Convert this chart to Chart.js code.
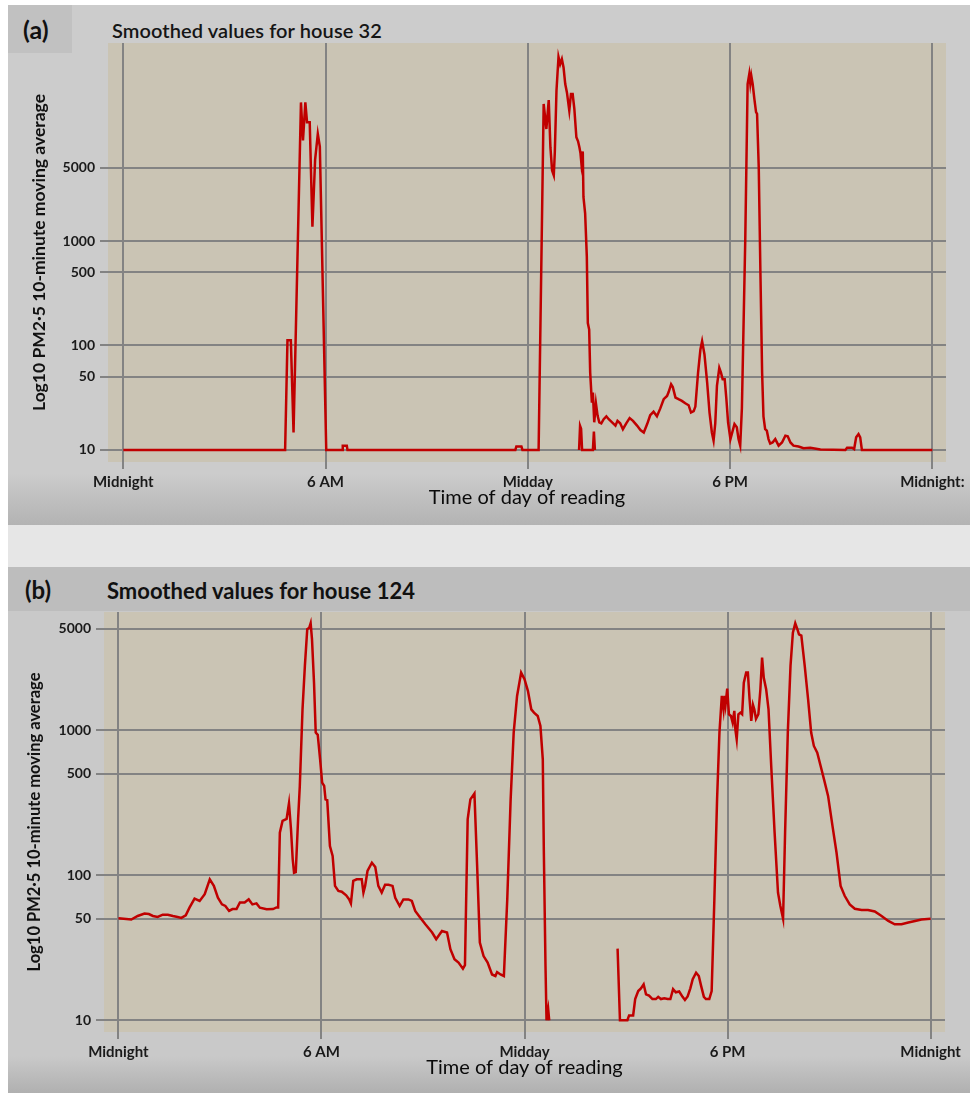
<!DOCTYPE html>
<html>
<head>
<meta charset="utf-8">
<script src="https://cdn.jsdelivr.net/npm/chart.js@4.4.1/dist/chart.umd.min.js"></script>
<style>
  html, body { margin:0; padding:0; background:#ffffff; }
  body { width:978px; height:1093px; position:relative; overflow:hidden; font-family: Lato, "DejaVu Sans", sans-serif; }
  .abs { position:absolute; line-height:1.2; }
  #pa { left:8px; top:5px; width:962px; height:520px; background:linear-gradient(to bottom,#cccccc 0%,#cccccc 90%,#b3b3b3 100%); }
  #labA { left:8px; top:5px; width:64px; height:48px; background:#c1c1c1; }
  #labA span { position:absolute; left:15px; top:9px; font-weight:bold; font-size:25px; line-height:1.2; color:#111; }
  #titleA { left:112px; top:18px; font-size:20px; font-weight:600; color:#151515; white-space:nowrap; letter-spacing:0.1px; }
  #gap { left:8px; top:525px; width:962px; height:42px; background:#e6e6e6; }
  #pb { left:8px; top:567px; width:962px; height:526px; background:linear-gradient(to bottom,#c9c9c9 0%,#c9c9c9 93%,#b0b0b0 100%); }
  #hb { left:8px; top:567px; width:962px; height:44px; background:#bdbdbd; }
  #labB { left:25px; top:576px; font-weight:bold; font-size:24px; color:#111; }
  #titleB { left:107px; top:578px; font-size:22px; font-weight:bold; color:#111; white-space:nowrap; }
  canvas { position:absolute; left:0; }
</style>
</head>
<body>
<div id="pa" class="abs"></div>
<div id="labA" class="abs"><span>(a)</span></div>
<div id="titleA" class="abs">Smoothed values for house 32</div>
<div id="gap" class="abs"></div>
<div id="pb" class="abs"></div>
<div id="hb" class="abs"></div>
<div id="labB" class="abs">(b)</div>
<div id="titleB" class="abs">Smoothed values for house 124</div>
<canvas id="cA" width="978" height="525" style="top:0px"></canvas>
<canvas id="cB" width="978" height="526" style="top:567px"></canvas>
<script>
// ---------- tick labels ----------
const xTickHours = [0, 6, 12, 18, 24];
const xLabelsA = ["Midnight", "6 AM", "Midday", "6 PM", "Midnight:"];
const xLabelsB = ["Midnight", "6 AM", "Midday", "6 PM", "Midnight"];
const yTickValues = [10, 50, 100, 500, 1000, 5000];

// ---------- house 32 (hours of day, PM2.5 10-min moving average) ----------
const hours32 = [0, 4.80, 4.87, 4.97, 5.05, 5.27, 5.33, 5.40, 5.45, 5.53,
  5.61, 5.69, 5.77, 5.83, 6.02, 6.49, 6.51, 6.63, 6.65, 11.63,
  11.66, 11.81, 11.84, 12.32, 12.47, 12.55, 12.62, 12.67, 12.72, 12.77,
  12.80, 12.85, 12.91, 12.96, 13.01, 13.06, 13.11, 13.16, 13.23, 13.28,
  13.33, 13.38, 13.44, 13.49, 13.53, 13.56, 13.59, 13.63, 13.65, 13.70,
  13.75, 13.78, 13.82, 13.85, 13.90, 13.93, 13.97, 14.02, 14.07, 14.12,
  14.18, 14.25, 14.33, 14.40, 14.50, 14.60, 14.66, 14.74, 14.82, 14.92,
  15.02, 15.12, 15.24, 15.34, 15.44, 15.54, 15.63, 15.73, 15.83, 15.93,
  16.03, 16.13, 16.18, 16.25, 16.30, 16.38, 16.47, 16.57, 16.67, 16.77,
  16.84, 16.92, 16.97, 17.05, 17.12, 17.17, 17.24, 17.32, 17.39, 17.46,
  17.51, 17.56, 17.61, 17.68, 17.73, 17.78, 17.84, 17.89, 17.94, 18.01,
  18.07, 18.13, 18.20, 18.25, 18.30, 18.35, 18.45, 18.52, 18.57, 18.60,
  18.63, 18.67, 18.72, 18.77, 18.80, 18.85, 18.90, 18.95, 18.99, 19.04,
  19.09, 19.14, 19.19, 19.26, 19.34, 19.44, 19.54, 19.64, 19.71, 19.79,
  19.88, 20.03, 20.18, 20.38, 20.68, 21.42, 21.47, 21.62, 21.68, 21.74,
  21.81, 21.86, 21.91, 24];
const pm32 = [10, 10, 112, 112, 14.7, 21200, 9160, 21200, 13700, 13700,
  1370, 6000, 10600, 8000, 10, 10, 11, 11, 10, 10,
  10.8, 10.8, 10, 10, 20500, 11800, 22300, 7900, 4740, 4250,
  7000, 27400, 57800, 49200, 55000, 45700, 31800, 26400, 17700, 25500,
  25500, 18400, 9840, 9000, 7900, 7000, 5500, 7200, 2640, 1840,
  708, 164, 142, 55, 28.4, 35.5, 18.4, 28, 21.2, 18.4,
  18, 19.7, 21, 19.7, 18.4, 17.1, 19, 18, 15.8, 18,
  20.2, 19, 17.1, 15.5, 14.7, 17.7, 21.5, 23.2, 21, 25,
  30.6, 32.9, 36, 42.6, 40, 31.7, 30.6, 29.5, 28, 26.8,
  22.8, 23.5, 26, 55, 91.6, 110, 82, 44, 22.8, 14.7,
  12.3, 18, 41, 61, 55, 47.5, 47.5, 30.6, 18.4, 12.7,
  15, 17.7, 16.5, 12.7, 11, 25, 1020, 31800, 39800, 32000,
  38000, 31800, 22900, 17100, 16500, 5100, 492, 55, 21, 15.8,
  15.3, 12.7, 11.5, 11.8, 12.7, 11, 11.8, 13.7, 13.5, 11.8,
  11, 10.8, 10.4, 10.5, 10.1, 10, 10.5, 10.5, 10.2, 13.2,
  14.2, 13.2, 10, 10];
// short separate run of readings near 13:30
const blipHours32 = [13.52, 13.55, 13.58, 13.61, 13.93, 13.96, 13.99];
const blipPm32 = [10, 17, 16, 10, 10, 15, 10];

// ---------- house 124 ----------
const hours124 = [0, 0.38, 0.57, 0.77, 0.90, 1.02, 1.16, 1.31, 1.46, 1.61,
  1.75, 1.86, 1.99, 2.10, 2.25, 2.40, 2.55, 2.70, 2.82, 2.94,
  3.06, 3.16, 3.27, 3.37, 3.49, 3.59, 3.73, 3.85, 3.96, 4.08,
  4.18, 4.38, 4.57, 4.67, 4.72, 4.77, 4.85, 4.97, 5.04, 5.10,
  5.15, 5.19, 5.24, 5.31, 5.36, 5.44, 5.51, 5.58, 5.64, 5.68,
  5.72, 5.78, 5.83, 5.89, 5.96, 6.02, 6.08, 6.12, 6.17, 6.25,
  6.33, 6.40, 6.50, 6.60, 6.73, 6.82, 6.87, 6.94, 7.04, 7.19,
  7.24, 7.29, 7.36, 7.49, 7.59, 7.68, 7.78, 7.88, 7.98, 8.10,
  8.18, 8.31, 8.42, 8.57, 8.67, 8.77, 8.92, 9.07, 9.27, 9.39,
  9.56, 9.71, 9.81, 9.93, 10.05, 10.18, 10.24, 10.32, 10.40, 10.52,
  10.60, 10.68, 10.79, 10.91, 11.04, 11.14, 11.19, 11.29, 11.39, 11.49,
  11.59, 11.68, 11.78, 11.90, 12.00, 12.10, 12.20, 12.28, 12.39, 12.47,
  12.54, 12.57, 12.62, 12.65, 12.70, 12.73, 13.70, 14.75, 14.82, 15.04,
  15.09, 15.21, 15.27, 15.36, 15.44, 15.52, 15.59, 15.68, 15.78, 15.88,
  15.95, 16.03, 16.13, 16.23, 16.31, 16.39, 16.47, 16.57, 16.67, 16.74,
  16.82, 16.90, 16.97, 17.07, 17.15, 17.22, 17.30, 17.36, 17.46, 17.53,
  17.61, 17.69, 17.76, 17.83, 17.88, 17.91, 17.94, 17.99, 18.04, 18.10,
  18.15, 18.20, 18.23, 18.27, 18.32, 18.38, 18.43, 18.48, 18.55, 18.60,
  18.65, 18.70, 18.75, 18.79, 18.84, 18.91, 18.97, 19.02, 19.07, 19.14,
  19.21, 19.29, 19.39, 19.49, 19.56, 19.64, 19.70, 19.78, 19.86, 19.93,
  20.00, 20.06, 20.11, 20.18, 20.28, 20.38, 20.47, 20.55, 20.65, 20.75,
  20.85, 20.97, 21.10, 21.22, 21.34, 21.46, 21.61, 21.76, 21.96, 22.15,
  22.35, 22.55, 22.75, 22.94, 23.14, 23.34, 23.54, 23.73, 24.00];
const pm124 = [50.5, 49.5, 52.4, 54.5, 54, 52.4, 51.6, 53.5, 53.5, 52.4,
  51.6, 50.8, 53, 59.8, 69, 66.5, 74, 93.8, 84.5, 70,
  63, 61.4, 56.8, 58.5, 58.5, 64.9, 64.9, 68.2, 63, 64,
  59.8, 58.3, 58.5, 60, 60, 197, 237, 245, 314, 207,
  129, 104, 105, 245, 413, 1395, 2780, 4980, 5100, 5470,
  4250, 2130, 964, 930, 631, 436, 413, 334, 330, 159,
  136, 84.5, 78, 77, 72.7, 68.2, 64.1, 91.4, 93.8, 93.8,
  76, 84.5, 107, 122, 114, 84.5, 76, 86, 86, 84.5,
  70, 61.4, 68.2, 68.2, 66.5, 56.8, 51, 45.9, 40.3, 36.2,
  41.3, 40.3, 30.9, 26.4, 25, 22.7, 24, 243, 334, 366,
  116, 34.4, 27.7, 25, 20.7, 20.2, 21.5, 20.7, 20.2, 68.2,
  334, 964, 1726, 2500, 2250, 1870, 1395, 1324, 1255, 1070,
  631, 151, 23.7, 10, 11.9, 10, null, 31.2, 10, 10,
  10.8, 10.8, 14, 15.9, 16.6, 17.7, 15.1, 14.8, 14, 14,
  14.5, 14, 14.2, 14, 14, 16.4, 15.6, 15.8, 14.5, 13.8,
  14.6, 16.6, 19.2, 21.3, 20.2, 17.2, 14.5, 14, 14, 15.9,
  68.2, 334, 964, 1726, 1395, 1726, 1500, 1940, 1290, 1255,
  1130, 1360, 1016, 867, 1290, 1324, 1290, 2130, 2500, 2500,
  1637, 1160, 1500, 1395, 1200, 1290, 1920, 3170, 2300, 1920,
  1395, 567, 197, 76, 61.4, 50.2, 197, 964, 2780, 4720,
  5470, 5000, 4590, 4500, 2780, 1637, 964, 780, 702, 567,
  459, 353, 219, 143, 84.5, 72.2, 63, 58.8, 57.7, 57.7,
  56.3, 52.4, 48.4, 45.9, 45.9, 47.2, 48.4, 49.6, 50.2];

// ---------- helpers ----------
const pairs = (xs, ys) => xs.map((x, i) => ({x: x, y: ys[i]}));
const LINE = '#c00000';
const GRID = '#838383';
const FONT = 'Lato, "DejaVu Sans", sans-serif';

const bgPlugin = {
  id: 'plotBg',
  beforeDraw(chart) {
    const {ctx, chartArea: a} = chart;
    ctx.save();
    ctx.fillStyle = '#cac4b4';
    ctx.fillRect(a.left, a.top, a.right - a.left, a.bottom - a.top);
    ctx.restore();
  }
};

function makeChart(id, datasets, cfg) {
  return new Chart(document.getElementById(id), {
    type: 'line',
    data: { datasets: datasets.map(d => ({
      data: d, borderColor: LINE, borderWidth: 2.5, pointRadius: 0,
      tension: 0, spanGaps: false, fill: false
    })) },
    plugins: [bgPlugin],
    options: {
      responsive: false, animation: false, devicePixelRatio: 1,
      layout: { padding: cfg.padding },
      plugins: { legend: {display: false}, tooltip: {enabled: false} },
      scales: {
        x: {
          type: 'linear', min: cfg.xMin, max: cfg.xMax,
          afterBuildTicks: s => { s.ticks = xTickHours.map(v => ({value: v})); },
          afterFit: s => { s.height = cfg.xAxisH; },
          ticks: { autoSkip: false, maxRotation: 0, padding: 4, color: '#1a1a1a',
                   font: {family: FONT, size: 15, weight: 'bold'},
                   callback: (v, i) => cfg.xLabels[i] },
          grid: { color: GRID, lineWidth: 2, tickLength: 7, tickColor: GRID },
          border: { display: false },
          title: { display: true, text: 'Time of day of reading', color: '#0a0a0a',
                   font: {family: FONT, size: 20}, padding: {top: 0, bottom: cfg.xTitlePad} }
        },
        y: {
          type: 'logarithmic', min: cfg.yMin, max: cfg.yMax,
          afterBuildTicks: s => { s.ticks = yTickValues.map(v => ({value: v})); },
          afterFit: s => { s.width = cfg.yAxisW; },
          ticks: { autoSkip: false, padding: 5, color: '#1a1a1a',
                   font: {family: FONT, size: 14, weight: 'bold'},
                   callback: v => String(v) },
          grid: { color: GRID, lineWidth: 2, tickLength: 8, tickColor: GRID },
          border: { display: false },
          title: { display: true, text: 'Log10 PM2·5 10-minute moving average', color: '#111',
                   font: {family: FONT, size: cfg.yTitleSize, weight: 'bold'}, padding: {top: cfg.yTitlePad, bottom: 0} }
        }
      }
    }
  });
}

makeChart('cA', [pairs(hours32, pm32), pairs(blipHours32, blipPm32)], {
  padding: {top: 43, right: 32, left: 0, bottom: 0},
  xMin: -0.454, xMax: 24.405, yMin: 7.67, yMax: 78500,
  xAxisH: 63, yAxisW: 108, xTitlePad: 15, yTitlePad: 28.5, yTitleSize: 17.5, xLabels: xLabelsA
});

makeChart('cB', [pairs(hours124, pm124)], {
  padding: {top: 45, right: 33, left: 0, bottom: 0},
  xMin: -0.426, xMax: 24.425, yMin: 8.3, yMax: 6546,
  xAxisH: 61, yAxisW: 104, xTitlePad: 13, yTitlePad: 25, yTitleSize: 16.5, xLabels: xLabelsB
});
</script>
</body>
</html>
